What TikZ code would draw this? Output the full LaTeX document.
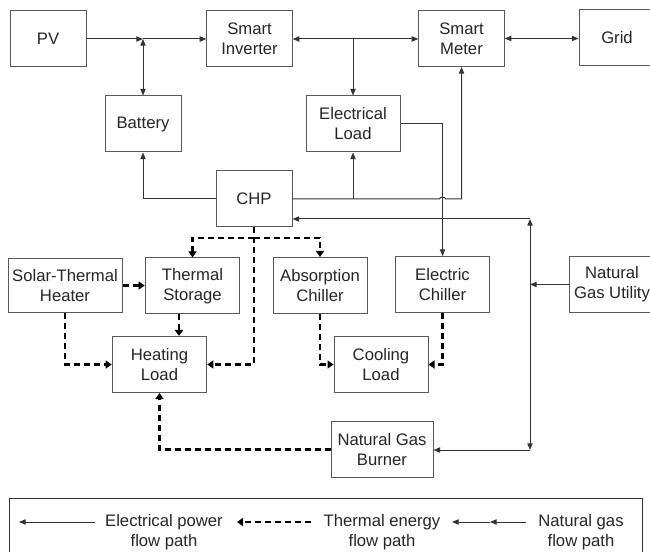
\documentclass[tikz,border=0pt]{standalone}
\usepackage{fontspec}
\setmainfont{Liberation Sans}
\usetikzlibrary{arrows.meta,calc}

\tikzset{
  box/.style={draw=black!65, line width=0.75pt, fill=white, align=center,
    text=black!85, font=\fontsize{12.5}{15}\selectfont, inner sep=0pt,
    minimum height=42pt},
  legtext/.style={align=center, text=black!85, font=\fontsize{12.5}{15}\selectfont},
  elec/.style={draw=black!80, line width=0.75pt, -{Triangle[length=5pt,width=4pt]}},
  elecboth/.style={draw=black!80, line width=0.75pt,
    {Triangle[length=5pt,width=4pt]}-{Triangle[length=5pt,width=4pt]}},
  therm/.style={line width=2pt, dash pattern=on 4.5pt off 3pt,
    -{Triangle[length=4.5pt,width=6pt]}},
  thermline/.style={line width=2pt, dash pattern=on 4.5pt off 3pt},
}

\begin{document}
\begin{tikzpicture}[x=0.75pt,y=-0.75pt]
    \clip (0,0) rectangle (650,552);
    % boxes
    \node[box, minimum width=57pt] (pv) at (48,39) {PV};
    \node[box, minimum width=64pt] (inv) at (249.5,39) {Smart\\Inverter};
    \node[box, minimum width=64pt] (meter) at (461.5,38.5) {Smart\\Meter};
    \node[box, minimum width=57pt] (grid) at (617,38) {Grid};
    \node[box, minimum width=57pt] (batt) at (143,124) {Battery};
    \node[box, minimum width=70.5pt] (eload) at (353,124) {Electrical\\Load};
    \node[box, minimum width=57pt] (chp) at (254,199) {CHP};
    \node[box, minimum width=85.5pt, minimum height=41pt] (sth) at (65,285.5) {Solar-Thermal\\Heater};
    \node[box, minimum width=71pt] (tst) at (192.5,286) {Thermal\\Storage};
    \node[box, minimum width=70.5pt] (abs) at (320,285.5) {Absorption\\Chiller};
    \node[box, minimum width=71pt] (ech) at (442.5,284.5) {Electric\\Chiller};
    \node[box, minimum width=64pt] (ngu) at (612,284.5) {Natural\\Gas Utility};
    \node[box, minimum width=71pt] (hload) at (159.5,364.5) {Heating\\Load};
    \node[box, minimum width=70.5pt] (cload) at (381,364.5) {Cooling\\Load};
    \node[box, minimum width=76.5pt] (burner) at (382,449.5) {Natural Gas\\Burner};

    % electrical power
    \coordinate (pvj) at (batt.north |- pv.east);
    \coordinate (invj) at (eload.north |- inv.east);
    \coordinate (hop) at (ech.north |- chp.east);
    \draw[elec] (pv.east) -- (pvj);
    \draw[elec] (pvj) -- (inv.west);
    \draw[elecboth] (pvj) -- (batt.north);
    \draw[elecboth] (inv.east) -- (inv.east -| meter.west);
    \draw[elec] (invj) -- (eload.north);
    \draw[elecboth] (meter.east) -- (meter.east -| grid.west);
    \draw[elec] (chp.west) -| (batt.south);
    \draw[elec] (chp.east) -- ($(hop)+(-3,0)$) to[out=90,in=90] ($(hop)+(3,0)$)
        -| (meter.south);
    \draw[elec] (eload.south |- chp.east) -- (eload.south);
    \draw[elec] (eload.east) -| (ech.north);

    % natural gas
    \coordinate (gasup) at (530,219);
    \coordinate (gasmid) at (gasup |- ngu.west);
    \coordinate (gasdn) at (530,450);
    \draw[elec] (ngu.west) -- (gasmid);
    \draw[elec] (gasmid) -- (gasup);
    \draw[elec] (gasup) -- (gasup -| chp.east);
    \draw[elec] (gasmid) -- (gasdn);
    \draw[elec] (gasdn) -- (gasdn -| burner.east);

    % thermal energy
    \coordinate (chpj) at (chp.south |- 0,238);
    \draw[thermline] (chp.south) -- (chpj);
    \draw[therm] (chpj) -| (tst.north);
    \draw[therm] (chpj) -| (abs.north);
    \draw[therm] (chp.south) |- (hload.east);
    \draw[therm] (sth.east) -- (sth.east -| tst.west);
    \draw[therm] (sth.south) |- (hload.west);
    \draw[therm] (tst.south -| 179,0) -- (hload.north -| 179,0);
    \draw[therm] (abs.south) |- (cload.west);
    \draw[therm] (ech.south) |- (cload.east);
    \draw[therm] (burner.west) -| (hload.south);

    % legend
    \draw[draw=black!80, line width=0.75pt] (9,498) rectangle (642,570);
    \node[legtext] (lelec) at (164,532) {Electrical power\\flow path};
    \node[legtext] (ltherm) at (382,532) {Thermal energy\\flow path};
    \node[legtext] (lgas) at (581,532) {Natural gas\\flow path};
    \coordinate (le1) at (95,522);
    \coordinate (le2) at (19,522);
    \coordinate (lt1) at (311,522);
    \coordinate (lt2) at (237,522);
    \coordinate (lg1) at (526,522);
    \coordinate (lg2) at (490,522);
    \coordinate (lg3) at (452,522);
    \draw[elec] (le1) -- (le2);
    \draw[therm] (lt1) -- (lt2);
    \draw[elec] (lg1) -- (lg2);
    \draw[elec] (lg2) -- (lg3);
\end{tikzpicture}
\end{document}
